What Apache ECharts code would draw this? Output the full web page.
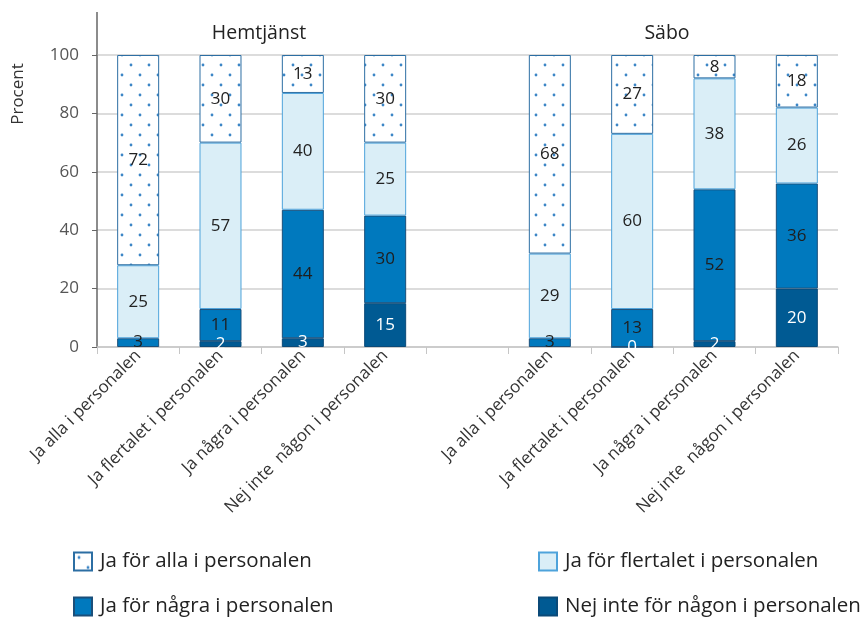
<!DOCTYPE html>
<html>
<head>
<meta charset="utf-8">
<script src="https://cdn.jsdelivr.net/npm/echarts@6/dist/echarts.min.js"></script>
<style>
html,body{margin:0;padding:0;background:#fff;}
#c{width:866px;height:618px;}
</style>
</head>
<body>
<div id="c"></div>
<script>
var categories = ['Ja alla i personalen', 'Ja flertalet i personalen', 'Ja några i personalen', 'Nej inte  någon i personalen', '',
                  'Ja alla i personalen', 'Ja flertalet i personalen', 'Ja några i personalen', 'Nej inte  någon i personalen'];
var seriesNames = ['Ja för alla i personalen', 'Ja för flertalet i personalen', 'Ja för några i personalen', 'Nej inte för någon i personalen'];
var nejValues       = [null, 2, 3, 15, null, null, 0, 2, 20];
var nagraValues     = [3, 11, 44, 30, null, 3, 13, 52, 36];
var flertaletValues = [25, 57, 40, 25, null, 29, 60, 38, 26];
var allaValues      = [72, 30, 13, 30, null, 68, 27, 8, 18];
var yTicks = [0, 20, 40, 60, 80, 100];
var groupTitles = ['Hemtjänst', 'Säbo'];

var FONT = '"Open Sans", "Noto Sans", sans-serif';

// dotted pattern
var pc = document.createElement('canvas');
pc.width = 18; pc.height = 20;
var ctx = pc.getContext('2d');
ctx.fillStyle = '#ffffff';
ctx.fillRect(0, 0, 18, 20);
ctx.fillStyle = '#3c86c6';
ctx.beginPath(); ctx.arc(5, 5, 1.4, 0, Math.PI * 2); ctx.fill();
ctx.beginPath(); ctx.arc(14, 15, 1.4, 0, Math.PI * 2); ctx.fill();

function labelCfg(color) {
  return {
    show: true, position: 'inside', color: color, fontSize: 17, fontFamily: FONT,
    formatter: function (p) { return p.value == null ? '' : String(p.value); }
  };
}

var legendText = {fontSize: 20.5, color: '#222222', fontFamily: FONT, padding: [0, 0, 0, 3]};
function legendAt(name, left, top) {
  return {
    left: left, top: top, padding: 0, itemWidth: 18, itemHeight: 18,
    icon: 'rect', textStyle: legendText, data: [name]
  };
}

var chart = echarts.init(document.getElementById('c'), null, {renderer: 'canvas'});
var option = {
  backgroundColor: '#ffffff',
  animation: false,
  textStyle: {fontFamily: FONT},
  grid: {left: 97, right: 28, top: 55, bottom: 271, containLabel: false},
  xAxis: {
    type: 'category',
    data: categories,
    axisLine: {show: true, lineStyle: {color: '#c6c6c6', width: 1.5}},
    axisTick: {show: true, interval: 0, length: 7, lineStyle: {color: '#c6c6c6'}},
    axisLabel: {interval: 0, rotate: 45, margin: 6, fontSize: 17, color: '#333333', fontFamily: FONT},
    splitLine: {show: false}
  },
  yAxis: {
    type: 'value',
    min: 0, max: 100, interval: 20,
    axisLine: {show: true, lineStyle: {color: '#666666', width: 1.5}},
    axisTick: {show: true, length: 5, lineStyle: {color: '#666666'}},
    axisLabel: {fontSize: 17, color: '#555555', margin: 18, fontFamily: FONT,
      formatter: function (v) { return yTicks.indexOf(v) >= 0 ? String(v) : ''; }},
    splitLine: {show: true, lineStyle: {color: '#d0d0d0', width: 1.5}}
  },
  legend: [
    legendAt(seriesNames[0], 73, 551),
    legendAt(seriesNames[2], 73, 596),
    legendAt(seriesNames[1], 538, 551),
    legendAt(seriesNames[3], 538, 596)
  ],
  graphic: [
    {type: 'line', shape: {x1: 97, y1: 12, x2: 97, y2: 55}, style: {stroke: '#666666', lineWidth: 1.5}},
    {type: 'text', x: 18, y: 94, rotation: Math.PI / 2,
      style: {text: 'Procent', fill: '#333333', font: '17px ' + FONT, textAlign: 'center', textVerticalAlign: 'middle'}},
    {type: 'text', x: 259, y: 33,
      style: {text: groupTitles[0], fill: '#222222', font: '19.5px ' + FONT, textAlign: 'center', textVerticalAlign: 'middle'}},
    {type: 'text', x: 667, y: 33,
      style: {text: groupTitles[1], fill: '#222222', font: '19.5px ' + FONT, textAlign: 'center', textVerticalAlign: 'middle'}}
  ],
  series: [
    {
      name: seriesNames[3], type: 'bar', stack: 's', barWidth: '51%', data: nejValues,
      itemStyle: {color: '#005a93', borderColor: '#0b4a78', borderWidth: 1},
      label: labelCfg('#ffffff')
    },
    {
      name: seriesNames[2], type: 'bar', stack: 's', barWidth: '51%', data: nagraValues,
      itemStyle: {color: '#0079be', borderColor: '#1b4f7a', borderWidth: 1},
      label: labelCfg('#1e1e1e')
    },
    {
      name: seriesNames[1], type: 'bar', stack: 's', barWidth: '51%', data: flertaletValues,
      itemStyle: {color: '#daeef7', borderColor: '#4ea3db', borderWidth: 1},
      label: labelCfg('#222222')
    },
    {
      name: seriesNames[0], type: 'bar', stack: 's', barWidth: '51%', data: allaValues,
      itemStyle: {color: {image: pc, repeat: 'repeat'}, borderColor: '#2c6ea3', borderWidth: 1},
      label: labelCfg('#222222')
    }
  ]
};
chart.setOption(option);
</script>
</body>
</html>
